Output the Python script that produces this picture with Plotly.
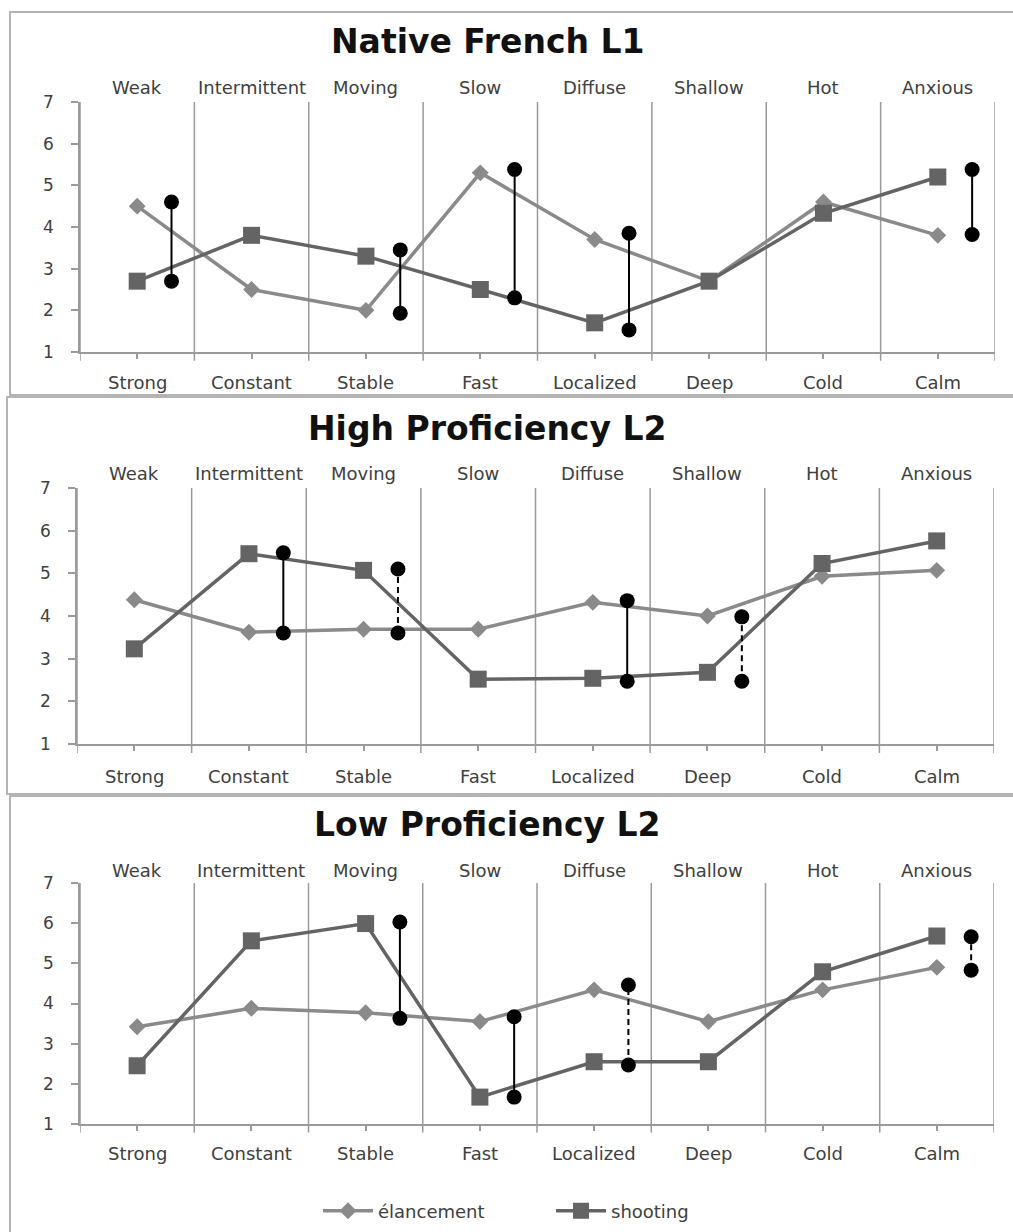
import plotly.graph_objects as go

# Category labels: top row (one pole of each scale) and bottom row (other pole)
top_labels = ["Weak", "Intermittent", "Moving", "Slow", "Diffuse", "Shallow", "Hot", "Anxious"]
bottom_labels = ["Strong", "Constant", "Stable", "Fast", "Localized", "Deep", "Cold", "Calm"]

# Mean ratings per group
native_elancement = [4.5, 2.5, 2.0, 5.3, 3.7, 2.7, 4.6, 3.8]
native_shooting = [2.7, 3.8, 3.3, 2.5, 1.7, 2.7, 4.33, 5.2]
high_elancement = [4.38, 3.62, 3.69, 3.69, 4.32, 4.0, 4.93, 5.07]
high_shooting = [3.23, 5.46, 5.07, 2.52, 2.54, 2.68, 5.23, 5.76]
low_elancement = [3.42, 3.88, 3.77, 3.55, 4.34, 3.55, 4.34, 4.9]
low_shooting = [2.45, 5.56, 5.99, 1.67, 2.55, 2.55, 4.79, 5.68]

# Significant differences: (category index, low, high, marginal?)
native_sig = [(0, 2.7, 4.6, False), (2, 1.93, 3.45, False), (3, 2.3, 5.38, False),
              (4, 1.53, 3.85, False), (7, 3.82, 5.38, False)]
high_sig = [(1, 3.6, 5.48, False), (2, 3.6, 5.1, True), (4, 2.47, 4.36, False),
            (5, 2.47, 3.98, True)]
low_sig = [(2, 3.63, 6.03, False), (3, 1.67, 3.67, False), (4, 2.47, 4.46, True),
           (7, 4.83, 5.66, True)]

panels = [
    ("Native French L1", native_elancement, native_shooting, native_sig),
    ("High Proficiency L2", high_elancement, high_shooting, high_sig),
    ("Low Proficiency L2", low_elancement, low_shooting, low_sig),
]

W, H = 1013, 1232
FONT = "DejaVu Sans"
EL_COLOR = "#8a8a8a"
SH_COLOR = "#646464"
GRID = "#9a9a9a"
TXT = "#404040"


def px(x):
    return x / W


def py(y):
    return 1 - y / H


# Pixel layout of each panel: plot left/right, top(y=7)/bottom(y=1), title, label rows, frame
geo = [
    dict(l=80, r=995, t=102, b=352, title=42, top=88, bot=382, frame=(10, 12, 395)),
    dict(l=77, r=994, t=488, b=744, title=428, top=474, bot=776, frame=(7, 397, 794)),
    dict(l=80, r=994, t=883, b=1124, title=825, top=870, bot=1153, frame=(10, 796, 1240)),
]

fig = go.Figure()
shapes = []
annotations = []
xs = list(range(1, 9))
offset = 0.3

for i, ((title, el, sh, sig), g) in enumerate(zip(panels, geo)):
    n = "" if i == 0 else str(i + 1)
    xa, ya = "x" + n, "y" + n
    fig.add_trace(go.Scatter(
        x=xs, y=el, mode="lines+markers", name="élancement",
        line=dict(color=EL_COLOR, width=3.5),
        marker=dict(symbol="diamond", size=13, color=EL_COLOR),
        showlegend=(i == 0), legendgroup="el", xaxis=xa, yaxis=ya))
    fig.add_trace(go.Scatter(
        x=xs, y=sh, mode="lines+markers", name="shooting",
        line=dict(color=SH_COLOR, width=3.5),
        marker=dict(symbol="square", size=17, color=SH_COLOR),
        showlegend=(i == 0), legendgroup="sh", xaxis=xa, yaxis=ya))
    for idx, lo, hi, marginal in sig:
        cx = idx + 1 + offset
        fig.add_trace(go.Scatter(
            x=[cx, cx], y=[lo, hi], mode="lines+markers", showlegend=False,
            line=dict(color="black", width=2, dash="6px,4px" if marginal else "solid"),
            marker=dict(symbol="circle", size=15, color="black"),
            xaxis=xa, yaxis=ya, hoverinfo="skip"))

    dom_x = [px(g["l"]), px(g["r"])]
    dom_y = [py(g["b"]), py(g["t"])]
    fig.update_layout({
        "xaxis" + n: dict(domain=dom_x, range=[0.5, 8.5], anchor=ya,
                          tickvals=xs, showticklabels=False, ticks="outside",
                          ticklen=5, tickcolor=GRID, tickwidth=1.5,
                          showgrid=False, zeroline=False,
                          showline=True, linecolor=GRID, linewidth=1.5),
        "yaxis" + n: dict(domain=dom_y, range=[1, 7], anchor=xa, dtick=1,
                          ticks="outside", ticklen=7, tickcolor=GRID, tickwidth=1.5,
                          showgrid=False, zeroline=False,
                          showline=True, linecolor=GRID, linewidth=1.5,
                          tickfont=dict(family=FONT, size=17, color=TXT),
                          ticklabelstandoff=14),
    })

    # category separators, hanging slightly below the axis
    for k in range(9):
        shapes.append(dict(type="line", xref=xa, yref=ya + " domain",
                           x0=k + 0.5, x1=k + 0.5, y0=-0.035, y1=1,
                           line=dict(color=GRID, width=1.5), layer="below"))

    # panel frame
    fx, fy0, fy1 = g["frame"]
    shapes.append(dict(type="rect", xref="paper", yref="paper",
                       x0=px(fx), x1=px(W + 10), y0=py(fy1), y1=py(fy0),
                       line=dict(color="#b4b4b4", width=2), layer="below"))

    annotations.append(dict(text="<b>%s</b>" % title, xref="paper", yref="paper",
                            x=px(487), y=py(g["title"]), showarrow=False,
                            xanchor="center", yanchor="middle",
                            font=dict(family=FONT, size=33, color="#111111")))
    for k in range(8):
        annotations.append(dict(text=top_labels[k], xref=xa, yref="paper",
                                x=k + 1, y=py(g["top"]), showarrow=False,
                                xanchor="center", yanchor="middle",
                                font=dict(family=FONT, size=18, color=TXT)))
        annotations.append(dict(text=bottom_labels[k], xref=xa, yref="paper",
                                x=k + 1, y=py(g["bot"]), showarrow=False,
                                xanchor="center", yanchor="middle",
                                font=dict(family=FONT, size=18, color=TXT)))

fig.update_layout(
    width=W, height=H,
    margin=dict(l=0, r=0, t=0, b=0, autoexpand=False),
    paper_bgcolor="white", plot_bgcolor="white",
    shapes=shapes, annotations=annotations,
    legend=dict(orientation="h", x=px(318), y=py(1211), xanchor="left",
                yanchor="middle", font=dict(family=FONT, size=18, color=TXT),
                itemwidth=50, entrywidth=168, bgcolor="rgba(0,0,0,0)"),
    hovermode=False,
)

fig.write_html("out.html")
